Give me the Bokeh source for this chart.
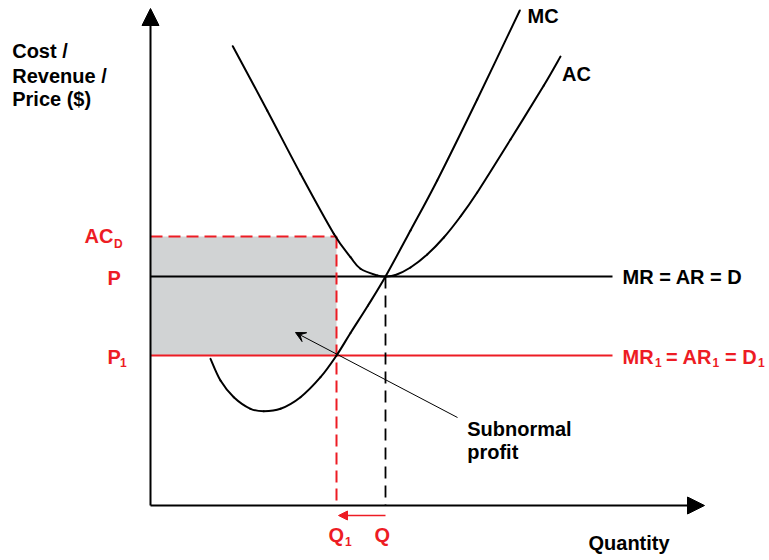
from bokeh.plotting import figure
from bokeh.models import Range1d, ColumnDataSource, Arrow, NormalHead, VeeHead
from bokeh.core.properties import value
from bokeh.embed import file_html
from bokeh.resources import INLINE

# ---------------- data ----------------
# price / cost levels
P = 22.9          # original price  (MR = AR = D)
P1 = 15.0         # new lower price (MR1 = AR1 = D1)
AC_D = 26.9       # average cost at Q1
# quantities
Q = 23.5
Q1 = 18.6

# marginal cost curve (quantity, cost)
mc_q = [6.0, 7.0, 8.33, 10.0, 11.33, 13.0, 15.0, 17.0, 18.6, 20.0, 21.75, 23.5, 26.0, 28.67, 32.67, 36.93]
mc_c = [14.67, 12.5, 10.83, 9.67, 9.43, 9.67, 10.83, 12.83, 15.0, 17.25, 20.0, 22.9, 27.5, 32.5, 40.6, 49.5]

# average cost curve (quantity, cost)
ac_q = [8.23, 11.67, 15.0, 18.33, 20.0, 21.0, 22.67, 23.5, 24.5, 26.0, 27.67, 29.33, 31.0, 32.67, 36.0, 39.33, 41.0]
ac_c = [45.93, 39.5, 33.17, 27.17, 24.83, 23.67, 23.0, 22.9, 23.05, 23.8, 25.1, 26.8, 28.9, 31.3, 36.6, 42.0, 44.9]

# extents of the axes and of the price lines
X_AXIS_END = 55.4
Y_AXIS_END = 49.7
LINE_END = 46.2

RED = "#ed1c24"
GREY = "#d1d3d4"
FONT = value("Liberation Sans")


def catmull_rom(xs, ys):
    """cubic bezier segments passing through the read points"""
    n = len(xs)
    seg = dict(x0=[], y0=[], x1=[], y1=[], cx0=[], cy0=[], cx1=[], cy1=[])
    for i in range(n - 1):
        xa, ya = xs[max(i - 1, 0)], ys[max(i - 1, 0)]
        xb, yb = xs[i], ys[i]
        xc, yc = xs[i + 1], ys[i + 1]
        xd, yd = xs[min(i + 2, n - 1)], ys[min(i + 2, n - 1)]
        seg["x0"].append(xb); seg["y0"].append(yb)
        seg["x1"].append(xc); seg["y1"].append(yc)
        seg["cx0"].append(xb + (xc - xa) / 6.0); seg["cy0"].append(yb + (yc - ya) / 6.0)
        seg["cx1"].append(xc - (xd - xb) / 6.0); seg["cy1"].append(yc - (yd - yb) / 6.0)
    return ColumnDataSource(seg)


p = figure(width=769, height=560,
           x_range=Range1d(-15.0, 61.9), y_range=Range1d(-5.5, 50.5),
           output_backend="svg", toolbar_location=None,
           x_axis_type=None, y_axis_type=None, min_border=0)
p.outline_line_color = None
p.background_fill_color = "white"
p.border_fill_color = "white"

# shaded subnormal profit area
p.quad(left=[0], right=[Q1], bottom=[P1], top=[AC_D], fill_color=GREY, line_color=None)

# price lines
p.line([0, LINE_END], [P, P], line_color="black", line_width=1.8)
p.line([0, LINE_END], [P1, P1], line_color=RED, line_width=2)

# dashed guides
p.line([0, Q1], [AC_D, AC_D], line_color=RED, line_width=2, line_dash="12 6")
p.line([Q1, Q1], [AC_D, 0], line_color=RED, line_width=2, line_dash="12 6")
p.line([Q, Q], [P, 0], line_color="black", line_width=1.8, line_dash="12 7")

# cost curves
p.bezier(x0="x0", y0="y0", x1="x1", y1="y1", cx0="cx0", cy0="cy0", cx1="cx1", cy1="cy1",
         source=catmull_rom(mc_q, mc_c), line_color="black", line_width=2, line_cap="round")
p.bezier(x0="x0", y0="y0", x1="x1", y1="y1", cx0="cx0", cy0="cy0", cx1="cx1", cy1="cy1",
         source=catmull_rom(ac_q, ac_c), line_color="black", line_width=2, line_cap="round")

# axes with arrow heads
p.add_layout(Arrow(end=NormalHead(size=17, fill_color="black", line_color="black"),
                   x_start=0, y_start=0, x_end=0, y_end=Y_AXIS_END, line_width=2))
p.add_layout(Arrow(end=NormalHead(size=17, fill_color="black", line_color="black"),
                   x_start=0, y_start=0, x_end=X_AXIS_END, y_end=0, line_width=2))

# quantity shift arrow (Q -> Q1)
p.add_layout(Arrow(end=NormalHead(size=9, fill_color=RED, line_color=RED),
                   x_start=Q, y_start=-1.0, x_end=Q1 + 0.2, y_end=-1.0,
                   line_color=RED, line_width=1.5))

# annotation arrow for subnormal profit
p.add_layout(Arrow(end=VeeHead(size=10, fill_color="black", line_color="black"),
                   x_start=30.7, y_start=8.8, x_end=14.5, y_end=17.3,
                   line_color="black", line_width=1))

DY = 0.7  # baseline correction


def label(x, y, text, color="black", size="20px"):
    p.text(x=[x], y=[y + DY], text=[text], text_color=color, text_font=FONT,
           text_font_style="bold", text_font_size=size,
           text_align="left", text_baseline="alphabetic")


SUB = "12px"
# y-axis title
label(-13.83, 44.8, "Cost /")
label(-13.83, 42.3, "Revenue /")
label(-13.83, 40.0, "Price ($)")
# x-axis title
label(43.8, -4.4, "Quantity")
# curve labels
label(37.7, 48.3, "MC")
label(41.15, 42.5, "AC")
# demand lines
label(47.2, 22.15, "MR = AR = D")
label(47.2, 14.2, "MR", RED)
label(50.45, 13.6, "1", RED, SUB)
label(51.55, 14.2, "= AR", RED)
label(56.2, 13.6, "1", RED, SUB)
label(57.45, 14.2, "= D", RED)
label(60.75, 13.6, "1", RED, SUB)
# price axis labels
label(-6.6, 26.25, "AC", RED)
label(-3.65, 25.5, "D", RED, SUB)
label(-4.3, 22.1, "P", RED)
label(-4.3, 14.2, "P", RED)
label(-3.05, 13.6, "1", RED, SUB)
# quantity labels
label(17.8, -3.65, "Q", RED)
label(19.45, -4.25, "1", RED, SUB)
label(22.4, -3.65, "Q", RED)
# annotation
label(31.67, 7.0, "Subnormal")
label(31.67, 4.65, "profit")

open("out.html", "w").write(file_html(p, INLINE))
